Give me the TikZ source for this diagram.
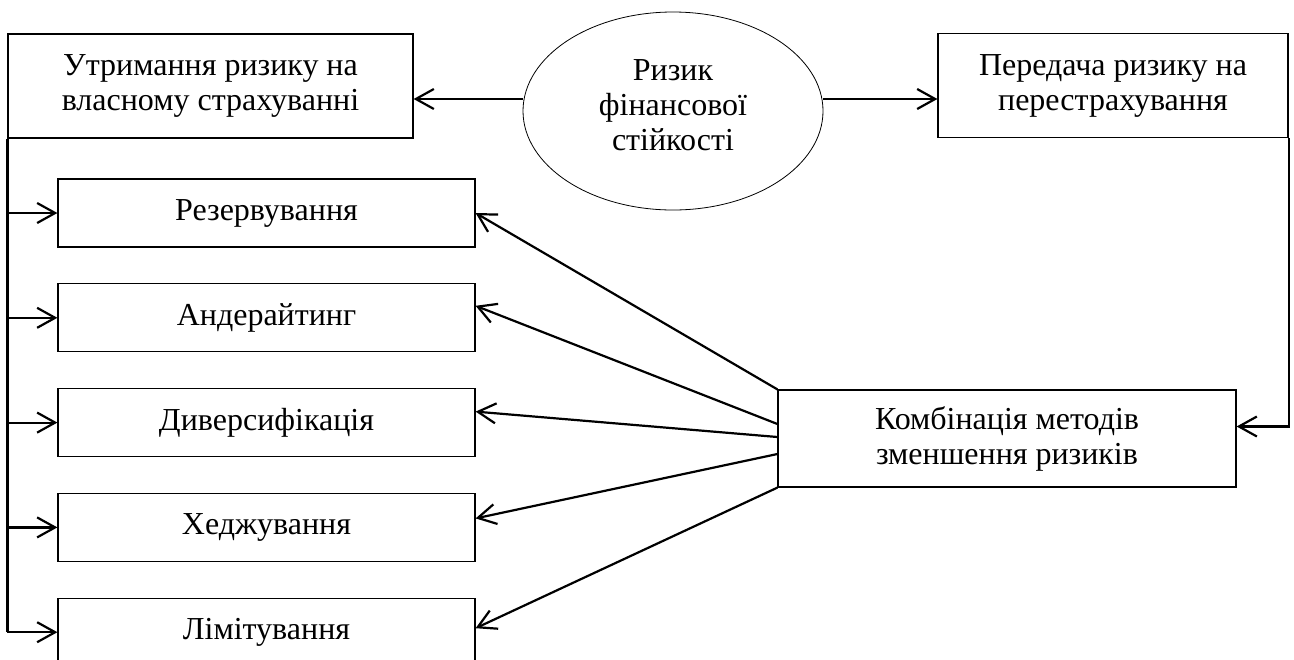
\documentclass[tikz,border=0pt]{standalone}
\usepackage{fontspec}
\setmainfont{Liberation Serif}
\usetikzlibrary{shapes,positioning,arrows.meta}

\begin{document}
\begin{tikzpicture}[%
    x=0.5pt, y=-0.5pt,          % one unit is one pixel of the scan
    >={Straight Barb[length=9pt,width=10pt]},
    node distance=52.4pt,       % spacing of the method boxes
    font=\fontsize{16}{17.5}\selectfont,
    ]
\tikzset{
  base/.style={draw, line width=0.6pt, align=center, inner sep=0pt},
  box/.style={base, rectangle, minimum height=52pt},
  meth/.style={base, rectangle, minimum width=208.5pt, minimum height=34pt, on grid},
  risk/.style={base, ellipse, line width=0.4pt, minimum width=150pt, minimum height=99pt, text depth=6pt},
  conn/.style={->, line width=1.1pt},
}

\useasboundingbox (0,0) rectangle (1294,659);

\node [box, minimum width=202.5pt] (ret) at (210.5,86) {Утримання ризику на\\власному страхуванні};
\node [risk] (fin) at (673,111) {Ризик\\фінансової\\стійкості};
\node [box, minimum width=175pt] (tra) at (1113,85.5) {Передача ризику на\\перестрахування};

\node [meth] (res) at (266.5,213) {Резервування};
\node [meth, below=of res] (und) {Андерайтинг};
\node [meth, below=of und] (div) {Диверсифікація};
\node [meth, below=of div] (hed) {Хеджування};
\node [meth, below=of hed] (lim) {Лімітування};

\node [box, minimum width=229pt, minimum height=48.5pt] (comb) at (1007,438.5) {Комбінація методів\\зменшення ризиків};

%connect
\draw [conn] ([yshift=6pt]fin.west) -- ([yshift=-6.5pt]ret.east);
\draw [conn] ([yshift=6pt]fin.east) -- ([yshift=-6.75pt]tra.west);
\draw [conn] (tra.south east) |- ([yshift=6pt]comb.east);

\draw [line width=1.1pt] (ret.south west) -- (ret.south west |- lim.west);
\foreach \n in {res,und,div,hed,lim}
  \draw [conn] (ret.south west |- \n.west) -- (\n.west);

\draw [conn] (comb.north west) -- (res.east);
\draw [conn] ([yshift=7.25pt]comb.west) -- ([yshift=6pt]und.east);
\draw [conn] ([yshift=0.75pt]comb.west) -- ([yshift=5.5pt]div.east);
\draw [conn] ([yshift=-7.75pt]comb.west) -- ([yshift=4.5pt]hed.east);
\draw [conn] (comb.south west) -- ([yshift=2pt]lim.east);

\end{tikzpicture}
\end{document}
